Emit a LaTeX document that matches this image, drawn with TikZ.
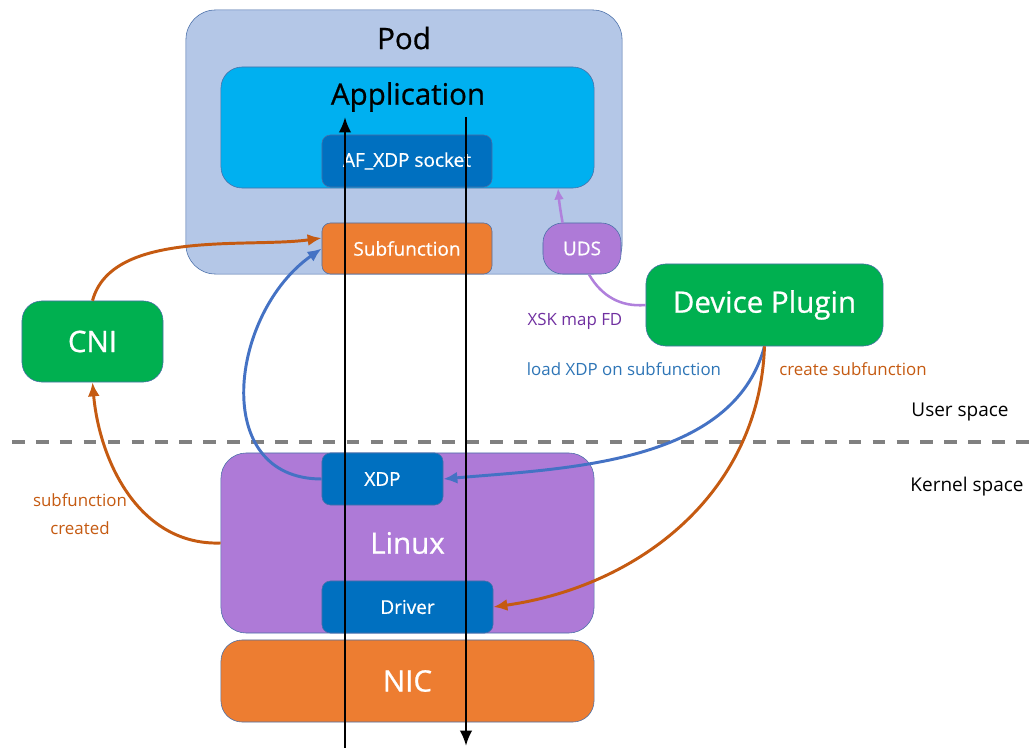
\documentclass[tikz,border=0pt]{standalone}
\usepackage{fontspec}
\setmainfont{Open Sans}
\newfontfamily\medfont{Open Sans}[FakeBold=0.7]
\usepackage{tikz}
\usetikzlibrary{arrows,arrows.meta,positioning}
\definecolor{podblue}{HTML}{B4C7E7}
\definecolor{appblue}{HTML}{00B0F0}
\definecolor{darkblue}{HTML}{0070C0}
\definecolor{nicorange}{HTML}{ED7D31}
\definecolor{lilac}{HTML}{AE7AD7}
\definecolor{plugingreen}{HTML}{00B050}
\definecolor{edgeline}{HTML}{4A6FA8}
\definecolor{rust}{HTML}{C55A11}
\definecolor{arrowblue}{HTML}{4472C4}
\definecolor{textblue}{HTML}{2E75B6}
\definecolor{xskpurple}{HTML}{7030A0}
\definecolor{udsline}{HTML}{B080DC}
\definecolor{dashgray}{HTML}{808080}
\tikzset{%
	box/.style      = {draw=edgeline, thin, rounded corners=6pt, text=white, font=\medfont\fontsize{13.5}{16}\selectfont},
	bigbox/.style   = {box, rounded corners=15pt, font=\medfont\fontsize{21}{24}\selectfont},
	heading/.style  = {font=\medfont\fontsize{21}{24}\selectfont},
	note/.style     = {font=\fontsize{12}{20}\selectfont, align=center},
	side/.style     = {font=\fontsize{13.5}{16}\selectfont},
	flow/.style     = {line width=2.1pt,-{Latex[length=10pt,width=8.5pt]}},
	wire/.style     = {line width=1.8pt,-{Latex[length=11pt,width=9pt]}},
	divider/.style  = {dashgray, line width=3pt, dash pattern=on 9pt off 8pt},
}
\begin{document}
\begin{tikzpicture}[x=0.025cm,y=-0.025cm]
			\useasboundingbox (0,0) rectangle (1034,748);
			\node[bigbox, fill=podblue, rounded corners=21pt, minimum width=10.9cm, minimum height=6.6cm] (pod) at (404,142) {};
			\node[heading] (podlbl) at (404,38) {Pod};
			\node[bigbox, fill=appblue, minimum width=9.325cm, minimum height=3.025cm] (app) at (407.5,127.5) {};
			\node[heading] (applbl) at (408,97) {Application};
			\node[box, fill=darkblue, minimum width=4.25cm, minimum height=1.3cm] (sock) at (407,161) {AF\_XDP socket};
			\node[box, fill=nicorange, minimum width=4.25cm, minimum height=1.275cm] (subf) at (407,248.5) {Subfunction};
			\node[box, fill=lilac, rounded corners=14pt, minimum width=1.95cm, minimum height=1.275cm] (uds) at (582,248.5) {UDS};
			\node[bigbox, fill=plugingreen, rounded corners=14pt, minimum width=3.525cm, minimum height=2.025cm] (cni) at (92.5,341.5) {CNI};
			\node[bigbox, fill=plugingreen, rounded corners=14pt, minimum width=5.925cm, minimum height=2.05cm] (plugin) at (764.5,305) {Device Plugin};
			\node[bigbox, fill=lilac, rounded corners=18pt, minimum width=9.325cm, minimum height=4.5cm] (linux) at (407.5,543) {Linux};
			\node[box, fill=darkblue, minimum width=3.025cm, minimum height=1.3cm] (xdp) at (382.5,479) {XDP};
			\node[box, fill=darkblue, minimum width=4.275cm, minimum height=1.3cm] (drv) at (407.5,607) {Driver};
			\node[bigbox, fill=nicorange, minimum width=9.325cm, minimum height=2.05cm] (nic) at (407.5,681) {NIC};
			\coordinate (divl) at (12,442);
			\coordinate (divr) at (1034,442);
			\draw[divider] (divl) -- (divr);
			\node[side] (userlbl) at (960,412) {User space};
			\node[side] (kernlbl) at (967,487) {Kernel space};
			\draw[flow, rust] (cni.north) to[out=75,in=188,looseness=0.8] (subf.173);
			\draw[flow, rust] (linux.west) to[out=182,in=-85] (cni.south);
			\node[note, text=rust] (createdlbl) at (80,514) {subfunction\\created};
			\draw[flow, arrowblue] (xdp.west) to[out=180,in=215,looseness=1.25] (subf.west);
			\draw[flow, arrowblue] (plugin.south) to[out=-105,in=5,looseness=0.9] (xdp.east);
			\draw[flow, rust] (plugin.south) to[out=-92,in=8] (drv.east);
			\node[note, text=textblue] (loadlbl) at (624,369) {load XDP on subfunction};
			\node[note, text=rust] (createlbl) at (853,369) {create subfunction};
			\draw[line width=1.8pt, udsline] (plugin.west) to[out=185,in=-60] (uds.285);
			\draw[line width=1.8pt, udsline, -{Latex[length=8pt,width=7pt]}] (uds.127) to[out=100,in=-85] (app.-22);
			\node[note, text=xskpurple] (xsklbl) at (575,321) {XSK map FD};
			\coordinate (rxbot) at (345,748);
			\coordinate (rxtop) at (345,117);
			\coordinate (txtop) at (466,117);
			\coordinate (txbot) at (466,746);
			\draw[wire] (rxbot) -- (rxtop);
			\draw[wire] (txtop) -- (txbot);
			\end{tikzpicture}
\end{document}
